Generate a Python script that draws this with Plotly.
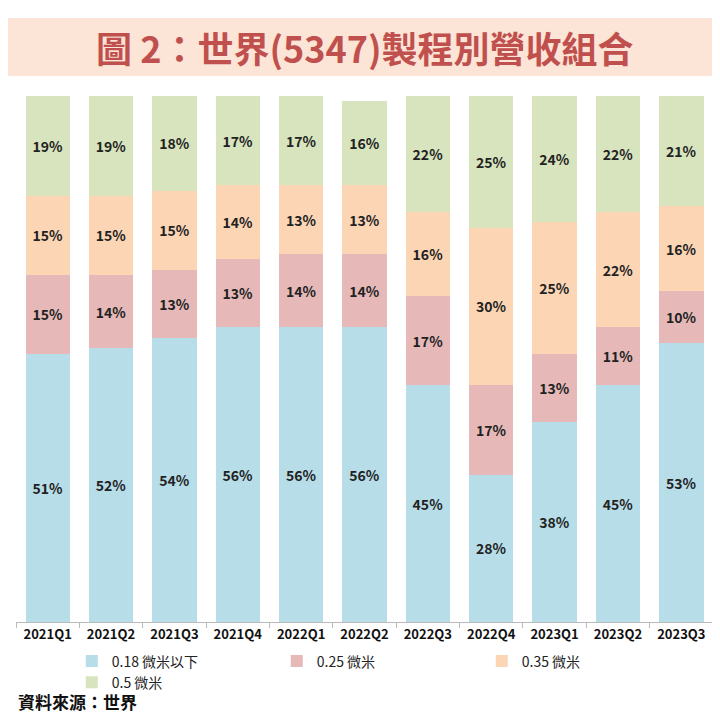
import plotly.graph_objects as go

quarters = ["2021Q1","2021Q2","2021Q3","2021Q4","2022Q1","2022Q2","2022Q3","2022Q4","2023Q1","2023Q2","2023Q3"]
s018 = [51,52,54,56,56,56,45,28,38,45,53]
s025 = [15,14,13,13,14,14,17,17,13,11,10]
s035 = [15,15,15,14,13,13,16,30,25,22,16]
s05  = [19,19,18,17,17,16,22,25,24,22,21]
names = ["0.18 微米以下","0.25 微米","0.35 微米","0.5 微米"]
colors = ["#b7dde8","#e6b9b8","#fcd5b5","#d7e4bd"]

fig = go.Figure()
for name, vals, c in zip(names, [s018,s025,s035,s05], colors):
    fig.add_bar(x=quarters, y=vals, name=name, marker_color=c, marker_line_width=0,
                text=[f"<b>{v}%</b>" for v in vals], textposition="inside", insidetextanchor="middle",
                textfont=dict(family="Noto Sans CJK TC", size=14, color="#222"), textangle=0)

B = 106; PH = 720 - 88 - B
def py(pix):
    return (720 - B - pix) / PH

fig.update_layout(
    width=720, height=720, barmode="stack", bargap=0.3,
    margin=dict(l=8, r=15, t=88, b=B, autoexpand=False),
    plot_bgcolor="white", paper_bgcolor="white",
    font=dict(family="Noto Sans CJK TC", color="#222"),
    uniformtext=dict(minsize=14, mode="show"),
    legend=dict(orientation="h", x=0.08, xanchor="left", yref="container", y=(720-664)/720, yanchor="middle",
                font=dict(size=14, family="Noto Sans CJK TC"), traceorder="normal",
                itemwidth=30, entrywidth=160),
    shapes=[dict(type="rect", xref="paper", yref="paper", x0=-0.02, x1=1.03,
                 y0=py(68), y1=py(10), fillcolor="#fce4d6", line_width=0, layer="below")],
    annotations=[
        dict(text="<b>圖 2：世界(5347)製程別營收組合</b>", xref="paper", yref="paper",
             x=0.5, y=py(39), yanchor="middle", showarrow=False,
             font=dict(size=36, color="#c0504d", family="Noto Sans CJK TC")),
        dict(text="<b>資料來源：世界</b>", xref="paper", yref="paper", x=0.0, xanchor="left",
             y=py(693), yanchor="middle", showarrow=False,
             font=dict(size=17, color="#111", family="Noto Sans CJK TC")),
    ],
)
fig.update_xaxes(showline=True, linecolor="#bbb", ticks="outside", tickcolor="#bbb", ticklen=5,
                 tickson="boundaries", tickfont=dict(size=13, family="Noto Sans CJK TC", color="#111"),
                 tickprefix="<b>", ticksuffix="</b>")
fig.update_yaxes(range=[0,100], visible=False, showgrid=False)
fig.write_html("out.html")
